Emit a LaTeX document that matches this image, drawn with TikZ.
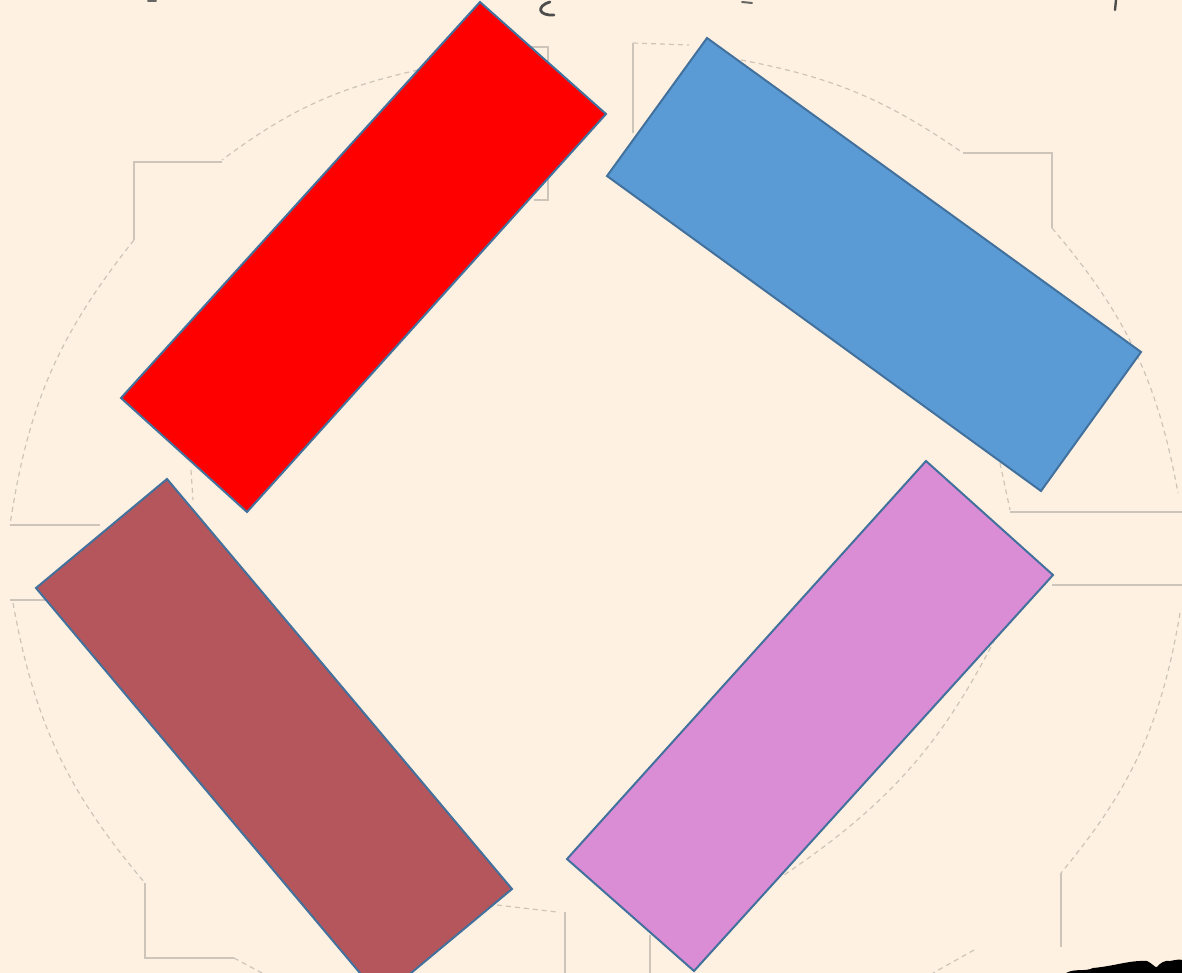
\documentclass[tikz,border=0pt]{standalone}
\definecolor{fond}{RGB}{254,241,225}
\definecolor{contour}{RGB}{65,113,156}
\definecolor{rouge}{RGB}{255,0,0}
\definecolor{bleu}{RGB}{91,155,213}
\definecolor{brique}{RGB}{180,86,91}
\definecolor{mauve}{RGB}{218,140,213}
\definecolor{trace}{RGB}{205,196,186}
\tikzset{
  barre/.style={draw=contour, line width=1pt, line join=miter},
  fantome/.style={draw=trace, line width=0.6pt},
  pointille/.style={fantome, dash pattern=on 2.5pt off 2pt},
}
\begin{document}
\begin{tikzpicture}[x=0.5pt, y=-0.5pt]

% Fond
\useasboundingbox (0,0) rectangle (1182,973);
\fill[fond] (0,0) rectangle (1182,973);
\clip (0,0) rectangle (1182,973);

% Contour extérieur (trace de fond)
\draw[pointille] (418,70) to[bend right=12] (222,160);
\draw[fantome] (222,162) -- (134,162) -- (134,240);
\draw[pointille] (134,240) to[bend right=15] (10,525);
\draw[fantome] (10,525) -- (100,525);
\draw[fantome] (10,600) -- (45,600);
\draw[pointille] (13,603) to[bend right=15] (145,883);
\draw[fantome] (145,883) -- (145,958) -- (234,958);
\draw[pointille] (234,958) -- (262,973);
\draw[pointille] (741,60) to[bend left=12] (963,153);
\draw[fantome] (963,153) -- (1052,153) -- (1052,228);
\draw[pointille] (1052,228) to[bend left=15] (1178,493);
\draw[pointille] (1180,613) to[bend left=15] (1061,873);
\draw[fantome] (1061,873) -- (1061,947);
\draw[pointille] (974,950) -- (933,973);

% Repères du haut
\draw[fantome] (633,133) -- (633,43);
\draw[pointille] (633,43) -- (689,45);
\draw[fantome] (529,47) -- (548,47) -- (548,200) -- (534,200);

% Arc intérieur
\draw[pointille] (191,470) -- (193,500);
\draw[pointille] (1000,463) -- (1010,510);
\draw[pointille] (1003,623) to[bend left=15] (781,877);
\draw[fantome] (1010,512) -- (1182,512);
\draw[fantome] (1052,585) -- (1182,585);

% Repères du bas
\draw[pointille] (497,905) -- (557,912);
\draw[fantome] (565,912) -- (565,973);
\draw[fantome] (650,935) -- (650,973);

% Fragments de texte coupés
\draw[black!70, line width=1.4pt, line cap=round] (550,2) .. controls (536,6) and (538,16) .. (554,15);
\draw[black!70, line width=1.2pt, line cap=round] (1116,0) -- (1115,10);
\draw[black!60, line width=1pt, line cap=round] (742,2) -- (752,3);
\draw[black!60, line width=1pt, line cap=round] (148,1) -- (156,1);

% Barre rouge
\filldraw[barre, fill=rouge] (480,2) -- (606,114) -- (247,512) -- (121,398) -- cycle;

% Barre bleue
\filldraw[barre, fill=bleu] (707,38) -- (1141,352) -- (1041,491) -- (607,176) -- cycle;

% Barre brique
\filldraw[barre, fill=brique] (167,479) -- (512,889) -- (381,998) -- (36,588) -- cycle;

% Barre mauve
\filldraw[barre, fill=mauve] (926,461) -- (1053,575) -- (694,971) -- (567,859) -- cycle;

% Tache noire en bas à droite
\fill[black] (1066,973) .. controls (1075,968) and (1085,972) .. (1093,968)
  .. controls (1115,966) and (1130,960) .. (1147,961)
  .. controls (1152,963) and (1155,968) .. (1157,967)
  .. controls (1160,963) and (1165,960) .. (1170,961)
  .. controls (1175,960) and (1180,959) .. (1182,960) -- (1182,973) -- cycle;

\end{tikzpicture}
\end{document}
